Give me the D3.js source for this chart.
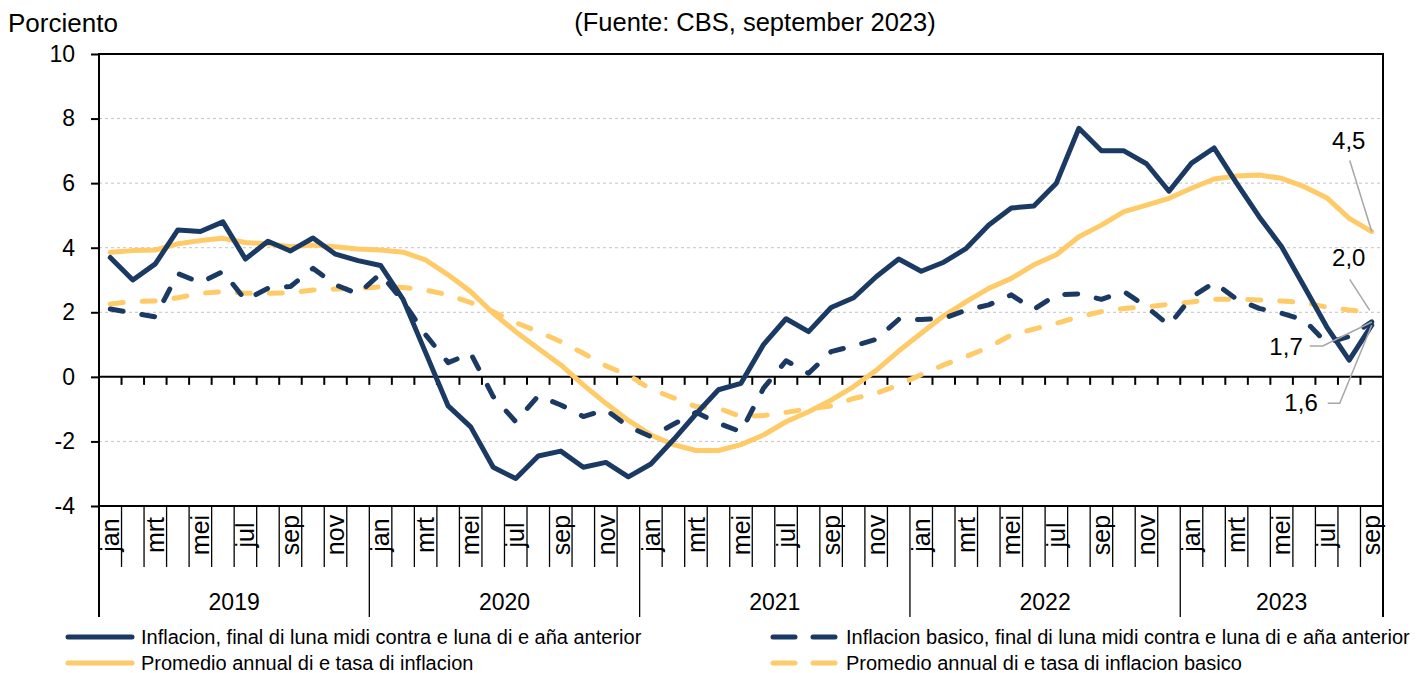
<!DOCTYPE html>
<html>
<head>
<meta charset="utf-8">
<script src="https://cdn.jsdelivr.net/npm/d3@7/dist/d3.min.js"></script>
<style>
  body { margin: 0; background: #fff; }
  svg { display: block; }
  text { font-family: "Liberation Sans", Arial, sans-serif; fill: #000; }
</style>
</head>
<body>
<div id="chart"></div>
<script>

//******************************************************************************
//**  Data
//******************************************************************************
var maanden = ["jan","feb","mrt","apr","mei","jun","jul","aug","sep","okt","nov","dec"];
var jaren = ["2019","2020","2021","2022","2023"];
var laatsteMaand = 9; //sep 2023
var yTicks = [-4,-2,0,2,4,6,8,10];

var inflacion = [
    3.7, 3.0, 3.5, 4.55, 4.5, 4.8, 3.65, 4.2, 3.9, 4.3, 3.8, 3.6,
    3.45, 2.4, 0.75, -0.9, -1.55, -2.8, -3.15, -2.45, -2.3, -2.8, -2.65, -3.1,
    -2.7, -1.95, -1.15, -0.4, -0.2, 1.0, 1.8, 1.4, 2.15, 2.45, 3.1, 3.65,
    3.27, 3.55, 3.98, 4.7, 5.23, 5.29, 6.0, 7.7, 7.0, 7.0, 6.6, 5.75,
    6.62, 7.09, 6.0, 4.96, 4.03, 2.8, 1.55, 0.52, 1.6
];
var inflacionBasico = [
    2.1, 1.98, 1.86, 3.2, 2.92, 3.26, 2.38, 2.74, 2.8, 3.36, 2.85, 2.57,
    3.2, 2.33, 1.3, 0.44, 0.73, -0.61, -1.39, -0.59, -0.87, -1.23, -1.02, -1.54,
    -1.85, -1.47, -1.1, -1.44, -1.7, -0.35, 0.5, 0.11, 0.78, 0.96, 1.16, 1.78,
    1.78, 1.81, 2.07, 2.23, 2.54, 2.09, 2.54, 2.57, 2.4, 2.64, 2.17, 1.6,
    2.47, 2.92, 2.41, 2.12, 1.97, 1.76, 1.05, 1.25, 1.7
];
var promedio = [
    3.86, 3.91, 3.93, 4.12, 4.22, 4.29, 4.16, 4.12, 4.03, 4.08, 4.03, 3.96,
    3.93, 3.86, 3.62, 3.16, 2.64, 1.97, 1.4, 0.88, 0.37, -0.25, -0.82, -1.35,
    -1.8, -2.1, -2.28, -2.28, -2.1, -1.8, -1.39, -1.08, -0.72, -0.3, 0.2, 0.8,
    1.35, 1.89, 2.33, 2.74, 3.05, 3.47, 3.78, 4.34, 4.7, 5.12, 5.32, 5.53,
    5.84, 6.13, 6.22, 6.25, 6.15, 5.89, 5.55, 4.91, 4.5
];
var promedioBasico = [
    2.26, 2.33, 2.35, 2.45, 2.59, 2.64, 2.59, 2.59, 2.6, 2.69, 2.72, 2.74,
    2.79, 2.77, 2.69, 2.54, 2.3, 2.02, 1.68, 1.4, 1.09, 0.73, 0.34, 0.05,
    -0.38, -0.65, -0.92, -0.97, -1.23, -1.2, -1.1, -0.99, -0.9, -0.67, -0.51, -0.25,
    0.07, 0.37, 0.63, 0.92, 1.3, 1.48, 1.66, 1.86, 2.02, 2.12, 2.17, 2.25,
    2.32, 2.4, 2.41, 2.38, 2.35, 2.3, 2.16, 2.07, 2.0
];

var seriesNames = [
    "Inflacion, final di luna midi contra e luna di e aña anterior",
    "Inflacion basico, final di luna midi contra e luna di e aña anterior",
    "Promedio annual di e tasa di inflacion",
    "Promedio annual di e tasa di inflacion basico"
];
var labels = ["4,5", "2,0", "1,7", "1,6"];


//******************************************************************************
//**  Chart
//******************************************************************************
var width = 1418, height = 673;
var navy = "#1b3a63", geel = "#ffca68";
var plot = {left: 99, right: 1383, top: 54, bottom: 506};

//periods jan 2019 .. sep 2023
var periods = [];
jaren.forEach(function(j, ji){
    maanden.forEach(function(m, mi){
        if (ji === jaren.length-1 && mi >= laatsteMaand) return;
        periods.push({key: j + "-" + m, jaar: j, maand: m, mi: mi});
    });
});

var svg = d3.select("#chart").append("svg")
    .attr("width", width).attr("height", height);

var x = d3.scaleBand().domain(periods.map(function(p){ return p.key; }))
    .range([plot.left, plot.right]).padding(0);
var y = d3.scaleLinear().domain([-4, 10]).range([plot.bottom, plot.top]);
var bw = x.bandwidth();
var cx = function(i){ return x(periods[i].key) + bw/2; };


//gridlines
svg.append("g").selectAll("line")
    .data(yTicks.filter(function(t){ return t !== 0 && t !== 10 && t !== -4; }))
    .enter().append("line")
    .attr("x1", plot.left).attr("x2", plot.right)
    .attr("y1", function(d){ return y(d); }).attr("y2", function(d){ return y(d); })
    .attr("stroke", "#c4c4c4").attr("stroke-width", 1).attr("stroke-dasharray", "3,3");


//y axis
var yAxis = svg.append("g").attr("transform", "translate(" + plot.left + ",0)")
    .call(d3.axisLeft(y).tickValues(yTicks).tickSize(8).tickPadding(16)
        .tickFormat(function(d){ return d; }));
yAxis.select(".domain").remove();
yAxis.selectAll("line").attr("stroke", "#000").attr("stroke-width", 2);
yAxis.selectAll("text")
    .style("font-family", "'Liberation Sans', Arial, sans-serif")
    .style("font-size", "23px").attr("fill", "#000");


//x axis at zero
var bounds = periods.map(function(p){ return x(p.key); }).concat([plot.right]);
svg.append("line")
    .attr("x1", plot.left).attr("x2", plot.right)
    .attr("y1", y(0)).attr("y2", y(0))
    .attr("stroke", "#000").attr("stroke-width", 2);
svg.append("g").selectAll("line").data(bounds).enter().append("line")
    .attr("x1", function(d){ return d; }).attr("x2", function(d){ return d; })
    .attr("y1", y(0)).attr("y2", y(0) + 8)
    .attr("stroke", "#000").attr("stroke-width", 2);


//month / year bands under the plot
svg.append("g").selectAll("line").data(bounds).enter().append("line")
    .attr("x1", function(d){ return d; }).attr("x2", function(d){ return d; })
    .attr("y1", plot.bottom)
    .attr("y2", function(d, i){
        var isYear = (i < periods.length && periods[i].mi === 0) || i === periods.length;
        return isYear ? 617 : 567;
    })
    .attr("stroke", "#000").attr("stroke-width", 1.3);

svg.append("g").selectAll("text")
    .data(periods.filter(function(p){ return p.mi % 2 === 0; }))
    .enter().append("text")
    .attr("transform", function(p){
        return "translate(" + (x(p.key) + bw/2) + ",535) rotate(-90)";
    })
    .attr("text-anchor", "middle").attr("dy", "0.35em")
    .style("font-size", "25px")
    .text(function(p){ return p.maand; });

svg.append("g").selectAll("text").data(jaren).enter().append("text")
    .attr("x", function(j){
        var ps = periods.filter(function(p){ return p.jaar === j; });
        var a = x(ps[0].key), b = x(ps[ps.length-1].key) + bw;
        return (a + b)/2;
    })
    .attr("y", 610)
    .attr("text-anchor", "middle")
    .style("font-size", "23px")
    .text(function(j){ return j; });


//plot frame
svg.append("rect")
    .attr("x", plot.left).attr("y", plot.top)
    .attr("width", plot.right - plot.left).attr("height", plot.bottom - plot.top)
    .attr("fill", "none").attr("stroke", "#000").attr("stroke-width", 2);
[plot.left, plot.right].forEach(function(px){
    svg.append("line").attr("x1", px).attr("x2", px)
        .attr("y1", plot.bottom).attr("y2", 617)
        .attr("stroke", "#000").attr("stroke-width", 2);
});


//series
var line = d3.line()
    .x(function(d, i){ return cx(i); })
    .y(function(d){ return y(d); });

var series = [
    {data: promedioBasico, color: geel, dash: "13,19"},
    {data: promedio, color: geel, dash: null},
    {data: inflacionBasico, color: navy, dash: "13,19"},
    {data: inflacion, color: navy, dash: null}
];
series.forEach(function(s){
    svg.append("path").datum(s.data)
        .attr("d", line)
        .attr("fill", "none")
        .attr("stroke", s.color)
        .attr("stroke-width", 5)
        .attr("stroke-linejoin", "round")
        .attr("stroke-linecap", "round")
        .attr("stroke-dasharray", s.dash);
});


//end labels
var last = periods.length - 1;
var ex = cx(last);
var leader = function(pts){
    svg.append("polyline")
        .attr("points", pts.map(function(p){ return p.join(","); }).join(" "))
        .attr("fill", "none").attr("stroke", "#a6a6a6").attr("stroke-width", 1.5);
};
var lbl = function(txt, tx, ty, anchor){
    svg.append("text").attr("x", tx).attr("y", ty)
        .attr("text-anchor", anchor)
        .style("font-size", "24px").text(txt);
};

var e1 = y(promedio[last]);
lbl(labels[0], ex - 23, e1 - 83, "middle");
leader([[ex - 22, e1 - 71], [ex, e1]]);

var e2 = y(promedioBasico[last]);
lbl(labels[1], ex - 23, e2 - 46, "middle");
leader([[ex - 22, e2 - 33], [ex - 2, e2 - 2]]);

var e3 = y(inflacionBasico[last]);
lbl(labels[2], ex - 69, e3 + 33, "end");
leader([[ex - 62, e3 + 24], [ex - 49, e3 + 24], [ex, e3]]);

var e4 = y(inflacion[last]);
lbl(labels[3], ex - 54, e4 + 86, "end");
leader([[ex - 44, e4 + 78], [ex - 32, e4 + 78], [ex, e4]]);


//axis title + title
svg.append("text").attr("x", 8).attr("y", 32)
    .style("font-size", "26px").text("Porciento");
svg.append("text").attr("x", 755).attr("y", 31)
    .attr("text-anchor", "middle")
    .style("font-size", "25.5px").text("(Fuente: CBS, september 2023)");


//legend
var legend = [
    {name: seriesNames[0], color: navy, dash: null, lx: 65, ly: 637},
    {name: seriesNames[1], color: navy, dash: "22,18", lx: 770, ly: 637},
    {name: seriesNames[2], color: geel, dash: null, lx: 65, ly: 663},
    {name: seriesNames[3], color: geel, dash: "22,18", lx: 770, ly: 663}
];
legend.forEach(function(l){
    svg.append("line")
        .attr("x1", l.lx + 3).attr("x2", l.lx + 67)
        .attr("y1", l.ly).attr("y2", l.ly)
        .attr("stroke", l.color).attr("stroke-width", 5)
        .attr("stroke-linecap", "round")
        .attr("stroke-dasharray", l.dash);
    svg.append("text")
        .attr("x", l.lx + 76).attr("y", l.ly).attr("dy", "0.35em")
        .style("font-size", "20px")
        .text(l.name);
});

</script>
</body>
</html>
